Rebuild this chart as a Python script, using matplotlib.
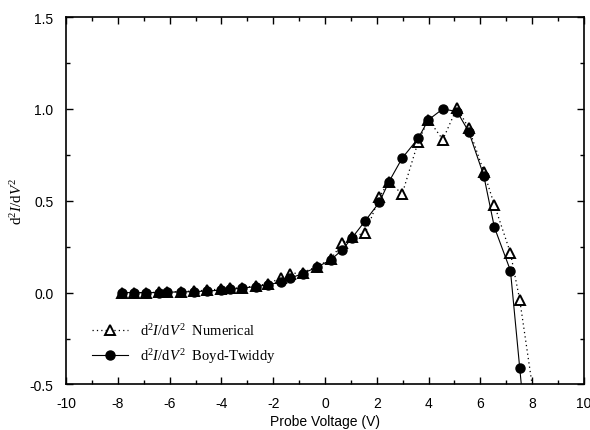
import numpy as np
import matplotlib.pyplot as plt
from matplotlib.ticker import MultipleLocator

plt.rcParams['font.family'] = 'Liberation Sans'
plt.rcParams['axes.unicode_minus'] = False
plt.rcParams['mathtext.fontset'] = 'custom'
plt.rcParams['mathtext.rm'] = 'Liberation Serif'
plt.rcParams['mathtext.it'] = 'Liberation Serif:italic'

# Boyd-Twiddy
x_bt = [-7.83, -7.39, -6.90, -6.41, -6.09, -5.57, -5.07, -4.54, -4.03, -3.68,
        -3.21, -2.67, -2.22, -1.70, -1.35, -0.86, -0.32, 0.22, 0.66, 1.05,
        1.56, 2.10, 2.46, 2.98, 3.60, 3.99, 4.55, 5.10, 5.55, 6.13,
        6.54, 7.16, 7.52, 7.75]
y_bt = [0.0, 0.0, 0.0, 0.0, 0.002, 0.004, 0.005, 0.009, 0.013, 0.018,
        0.024, 0.033, 0.042, 0.058, 0.078, 0.104, 0.138, 0.178, 0.232, 0.299,
        0.392, 0.492, 0.601, 0.732, 0.840, 0.940, 1.0, 0.985, 0.876, 0.637,
        0.356, 0.120, -0.412, -0.75]

# Numerical
x_num = [-7.83, -7.39, -6.90, -6.41, -6.09, -5.57, -5.07, -4.54, -4.03, -3.68,
         -3.21, -2.67, -2.22, -1.70, -1.35, -0.86, -0.32, 0.22, 0.66, 1.05,
         1.56, 2.10, 2.46, 2.98, 3.60, 3.99, 4.55, 5.10, 5.55, 6.13,
         6.54, 7.16, 7.52, 8.10]
y_num = [0.0, 0.0, 0.0, 0.002, 0.004, 0.005, 0.009, 0.013, 0.020, 0.025,
         0.025, 0.038, 0.047, 0.080, 0.103, 0.109, 0.142, 0.181, 0.269, 0.305,
         0.325, 0.519, 0.604, 0.537, 0.822, 0.942, 0.833, 1.007, 0.895, 0.659,
         0.477, 0.216, -0.040, -0.60]

fig = plt.figure(figsize=(5.9, 4.31), dpi=100)
ax = fig.add_axes([0.1119, 0.1056, 0.8779, 0.8526])

ax.plot(x_num, y_num, color='black', linestyle=(0, (1, 2.5)), linewidth=0.9,
        marker='^', markersize=6.5, markerfacecolor='white',
        markeredgecolor='black', markeredgewidth=1.4,
        label=r'$\mathrm{d}^2I/\mathrm{d}V^2$  Numerical')
ax.plot(x_bt, y_bt, color='black', linestyle='-', linewidth=0.8,
        marker='o', markersize=6.5, markerfacecolor='black',
        markeredgecolor='black',
        label=r'$\mathrm{d}^2I/\mathrm{d}V^2$  Boyd-Twiddy')

ax.set_xlim(-10, 10)
ax.set_ylim(-0.5, 1.5)
ax.xaxis.set_major_locator(MultipleLocator(2))
ax.xaxis.set_minor_locator(MultipleLocator(1))
ax.yaxis.set_major_locator(MultipleLocator(0.5))
ax.yaxis.set_minor_locator(MultipleLocator(0.25))
ax.yaxis.set_major_formatter(plt.FuncFormatter(lambda v, p: f'{v:.1f}'))
ax.tick_params(which='both', direction='in', top=True, right=True, labelsize=10)
ax.tick_params(axis='x', which='major', pad=8)
ax.tick_params(axis='y', which='major', pad=9)
ax.tick_params(which='major', length=5, width=1)
ax.tick_params(which='minor', length=3, width=1)
for s in ax.spines.values():
    s.set_linewidth(1.2)

ax.set_xlabel('Probe Voltage (V)', fontsize=10, labelpad=3)
ax.set_ylabel(r'$\mathrm{d}^2I/\mathrm{d}V^2$', fontsize=11, labelpad=3)

leg = ax.legend(loc='lower left', bbox_to_anchor=(0.027, 0.02), frameon=False,
                handlelength=2.5, borderpad=0.3, labelspacing=0.6,
                prop={'family': 'Liberation Serif', 'size': 10.5})

fig.savefig('out.png', dpi=100)
